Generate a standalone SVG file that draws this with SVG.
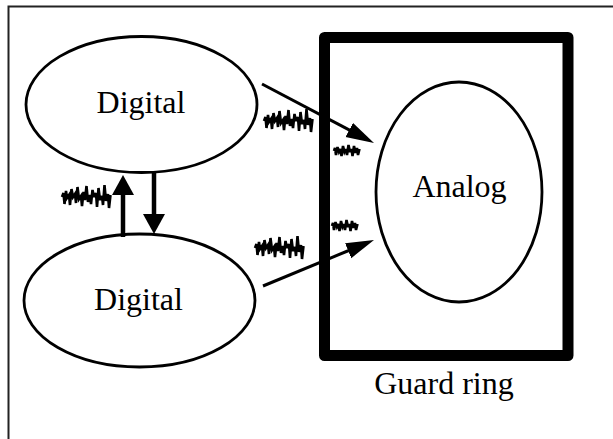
<svg xmlns="http://www.w3.org/2000/svg" xmlns:xlink="http://www.w3.org/1999/xlink" width="613" height="439" viewBox="0 0 613 439">
<style>
  .shape { fill: #fff; stroke: #000; stroke-width: 2.8; }
  .lbl { font-family: "Liberation Serif", "Times New Roman", serif; font-size: 32px; fill: #000; text-anchor: middle; }
  .conn { stroke: #000; fill: none; }
  .noise { fill: none; stroke: #000; stroke-width: 2.6; stroke-linejoin: miter; stroke-miterlimit: 3; stroke-linecap: butt; }
</style>
<defs>
  <marker id="headDiag" markerUnits="userSpaceOnUse" markerWidth="30" markerHeight="18" refX="2" refY="8" orient="auto" viewBox="0 0 30 18">
    <path d="M0,0 L28,8 L0,16 z" fill="#000"/>
  </marker>
  <marker id="headVert" markerUnits="userSpaceOnUse" markerWidth="22" markerHeight="24" refX="2" refY="11" orient="auto" viewBox="0 0 22 24">
    <path d="M0,0 L20,11 L0,22 z" fill="#000"/>
  </marker>
  <path id="noiseBig" class="noise" d="M1,14 L2.5,10 L3.5,21 L5,8 L6,15 L8,12 L9,22 L10.5,6 L12,14 L14,11 L15,20 L16.5,4 L18,16 L20,13 L21,23 L22.5,9 L24,17 L25.5,3 L27,19 L29,12 L30,21 L31.5,7 L33,14 L35,10 L36,24 L37.5,5 L39,17 L41,13 L42,22 L43.5,2 L45,18 L47,11 L48,25 L49.5,12"/>
  <path id="noiseSmall" class="noise" d="M1,8 L2,5 L3,12 L4.5,4 L6,9 L7.5,6 L8.5,13 L10,3 L11.5,9 L13,6 L14,12 L15.5,2 L17,9 L18.5,6 L19.5,13 L21,3 L22.5,10 L24,5 L25,12 L26.5,6"/>
</defs>

<rect x="8.5" y="6.5" width="700" height="500" fill="none" stroke="#222" stroke-width="2"/>

<g id="guard-ring">
  <rect x="324.5" y="37.5" width="243.5" height="318" fill="none" stroke="#000" stroke-width="11" stroke-linejoin="round"/>
  <text class="lbl" x="444" y="394">Guard ring</text>
</g>

<g id="digital-top">
  <ellipse class="shape" cx="141.5" cy="104.5" rx="115.5" ry="68"/>
  <text class="lbl" x="141" y="113">Digital</text>
</g>

<g id="digital-bottom">
  <ellipse class="shape" cx="139.5" cy="300.5" rx="115.5" ry="66.5"/>
  <text class="lbl" x="138.5" y="310">Digital</text>
</g>

<g id="analog">
  <ellipse class="shape" cx="459" cy="192" rx="83" ry="110"/>
  <text class="lbl" x="459.5" y="197">Analog</text>
</g>

<g id="connectors">
  <line class="conn" x1="262" y1="84" x2="351" y2="130.9" stroke-width="3" marker-end="url(#headDiag)"/>
  <line class="conn" x1="263" y1="286" x2="350" y2="250" stroke-width="3" marker-end="url(#headDiag)"/>
  <line class="conn" x1="123" y1="237" x2="123" y2="193" stroke-width="4.5" marker-end="url(#headVert)"/>
  <line class="conn" x1="154" y1="172" x2="154" y2="216" stroke-width="4.5" marker-end="url(#headVert)"/>
</g>

<g id="noise">
  <use xlink:href="#noiseBig" href="#noiseBig" transform="translate(263,107)"/>
  <use xlink:href="#noiseBig" href="#noiseBig" transform="translate(254,234)"/>
  <use xlink:href="#noiseBig" href="#noiseBig" transform="translate(61,183)"/>
  <use xlink:href="#noiseSmall" href="#noiseSmall" transform="translate(333,143)"/>
  <use xlink:href="#noiseSmall" href="#noiseSmall" transform="translate(331,218)"/>
</g>
</svg>
